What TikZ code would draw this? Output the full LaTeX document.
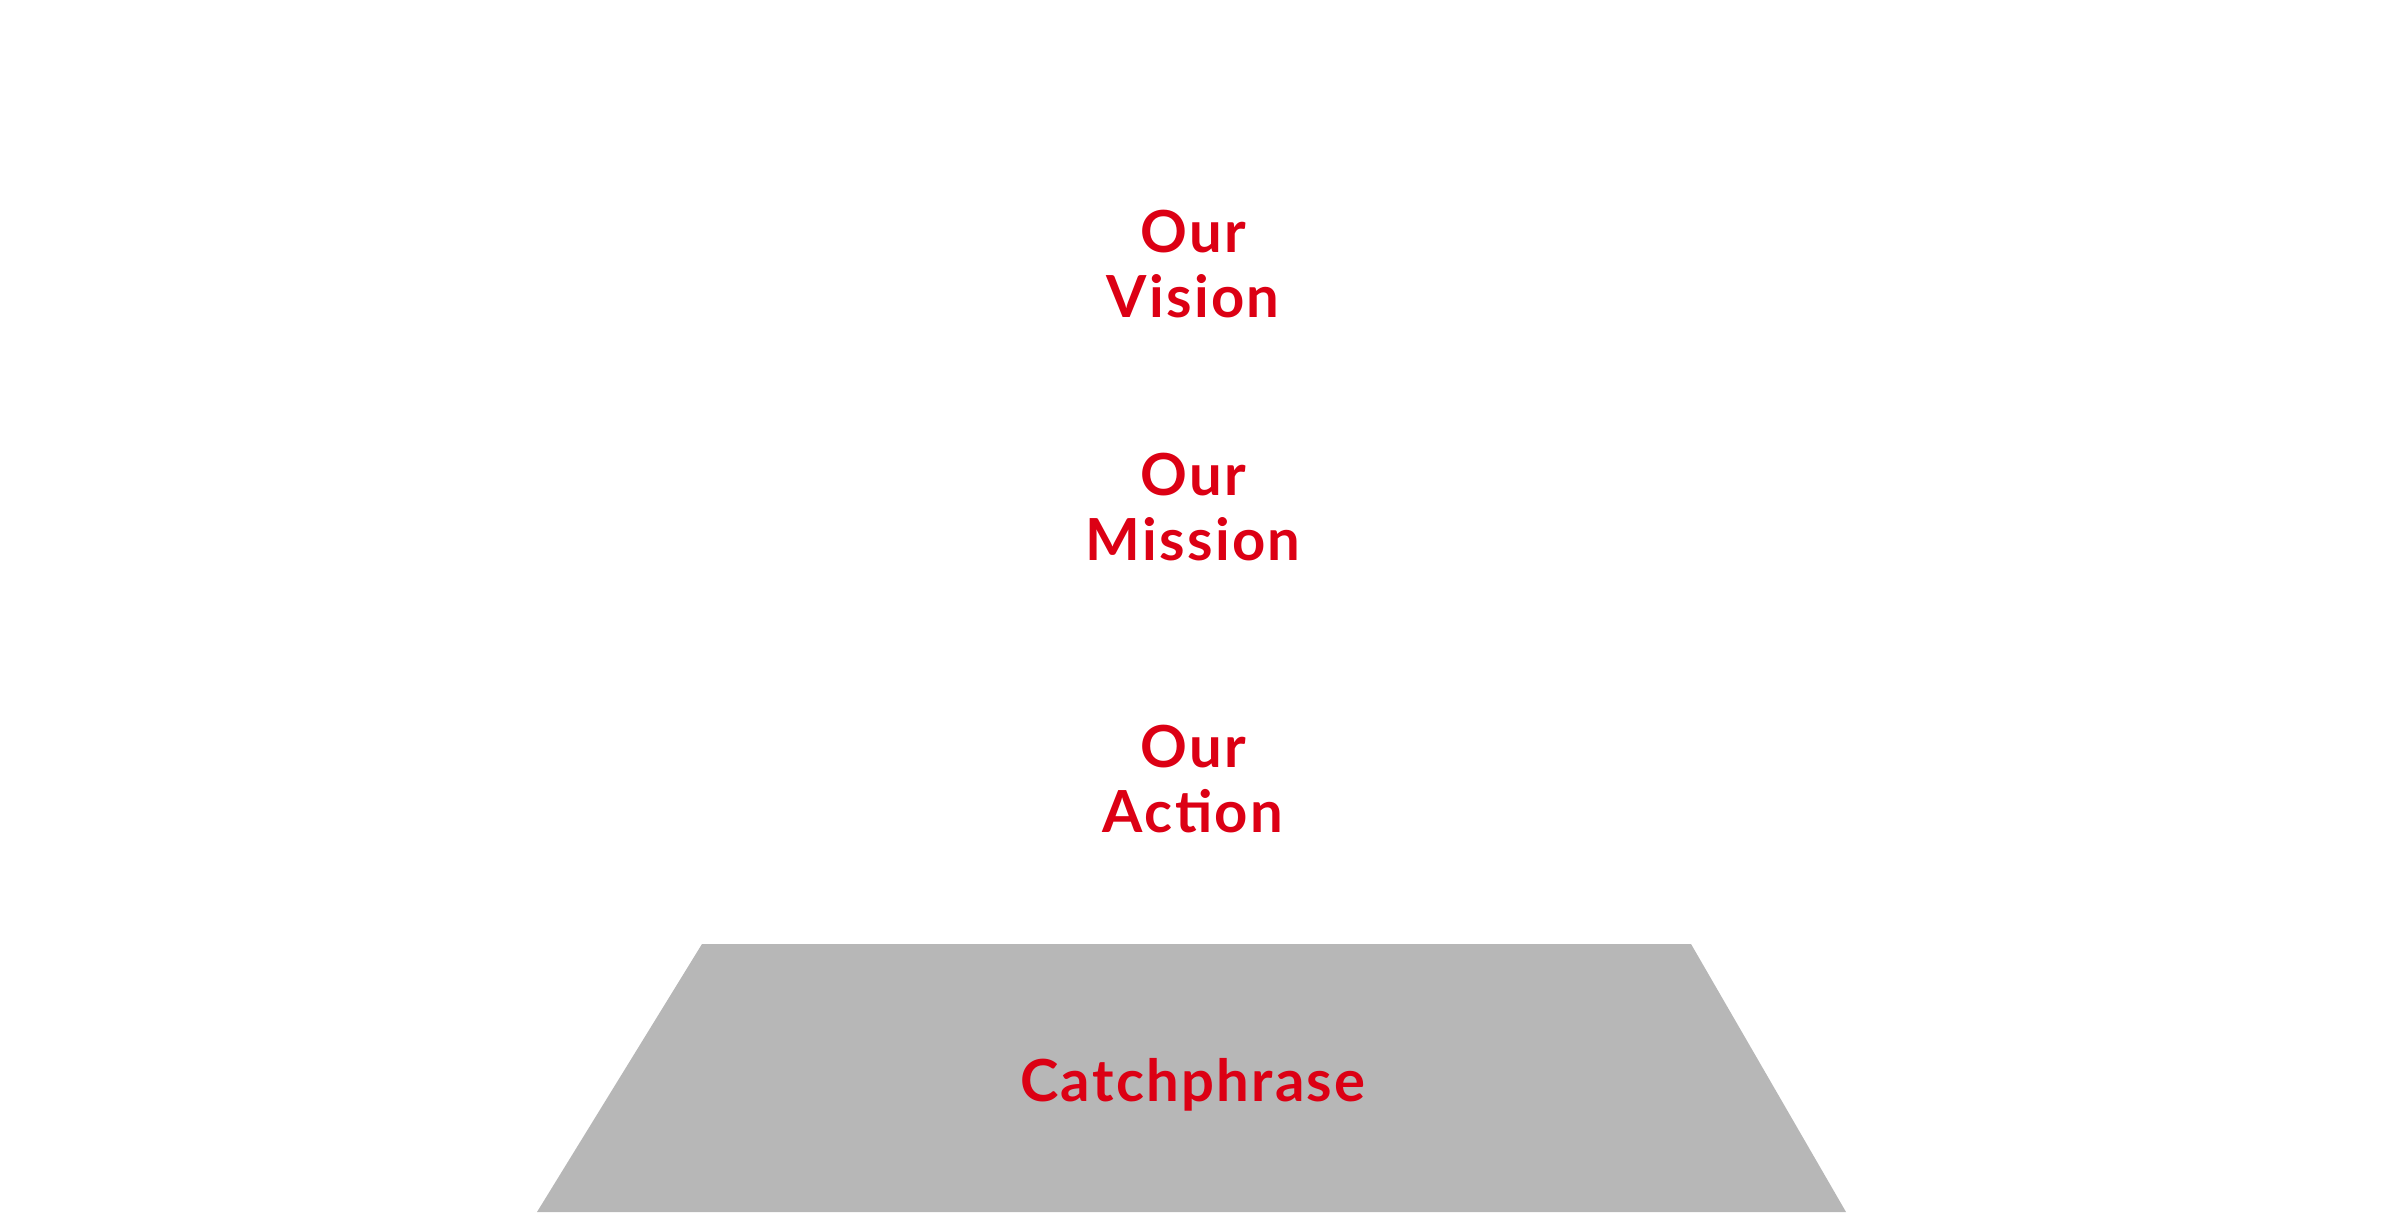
\documentclass[tikz,border=0pt]{standalone}
\usepackage{fontspec}
\setmainfont{Lato}[LetterSpace=4]
\usetikzlibrary{positioning}
\definecolor{brandred}{HTML}{DC0014}
\definecolor{basegray}{HTML}{B7B7B7}

\begin{document}
\begin{tikzpicture}[every node/.style={font=\bfseries\fontsize{16.5pt}{18.5pt}\selectfont, text=brandred, inner sep=0pt, align=center}]
\useasboundingbox (0,0) rectangle (24,12.12);
% base
\fill[basegray] (5.37,0) -- (7.02,2.68) -- (16.91,2.68) -- (18.46,0) -- cycle;
\node[anchor=base] (catch) at (11.93,1.11) {Catchphrase};
% levels
\node (action) at (11.93,4.33) {Our\\Action};
\node (mission) at (11.93,7.05) {Our\\Mission};
\node (vision) at (11.93,9.48) {Our\\Vision};
\end{tikzpicture}
\end{document}
